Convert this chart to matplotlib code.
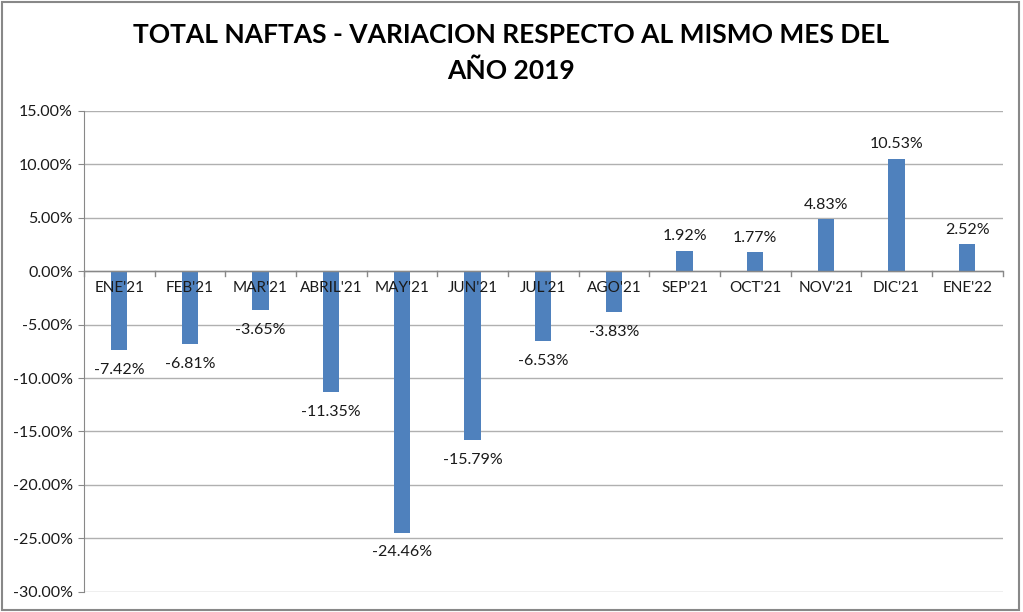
import matplotlib
matplotlib.use("Agg")
import matplotlib.pyplot as plt
from matplotlib.patches import Rectangle

categories = ["ENE'21", "FEB'21", "MAR'21", "ABRIL'21", "MAY'21", "JUN'21", "JUL'21",
              "AGO'21", "SEP'21", "OCT'21", "NOV'21", "DIC'21", "ENE'22"]
values = [-7.42, -6.81, -3.65, -11.35, -24.46, -15.79, -6.53, -3.83, 1.92, 1.77, 4.83, 10.53, 2.52]
yticks = [15, 10, 5, 0, -5, -10, -15, -20, -25, -30]

plt.rcParams['font.family'] = ['Lato', 'DejaVu Sans']

fig = plt.figure(figsize=(10.23, 6.12), dpi=100)
ax = fig.add_axes([0.082, 0.033, 0.898, 0.786])

bar_color = '#4F81BD'
x = list(range(len(categories)))
ax.bar(x, values, width=0.23, color=bar_color, zorder=3)

ax.set_xlim(-0.5, len(categories) - 0.5)
ax.set_ylim(-30, 15)
ax.set_yticks(yticks)
ax.set_yticklabels([f"{v:.2f}%" for v in yticks], fontsize=11.5, color='#1a1a1a')
ax.grid(axis='y', color='#b0b0b0', linewidth=1.0, zorder=0)
ax.tick_params(axis='y', length=4, color='#888888', pad=4)
ax.tick_params(axis='x', length=0)
ax.set_xticks([])

for s in ['top', 'right', 'bottom']:
    ax.spines[s].set_visible(False)
ax.spines['left'].set_color('#888888')

# zero axis line
ax.axhline(0, color='#888888', linewidth=1.0, zorder=4)
for b in range(len(categories) + 1):
    ax.plot([b - 0.5, b - 0.5], [0, -0.45], color='#888888', linewidth=1.0, zorder=4, clip_on=False)

for xi, c in zip(x, categories):
    ax.text(xi, -1.55, c, ha='center', va='center', fontsize=11, color='#1a1a1a', zorder=5)

for xi, v in zip(x, values):
    if v >= 0:
        ax.text(xi, v + 0.7, f"{v:.2f}%", ha='center', va='bottom', fontsize=11.5, color='#1a1a1a')
    else:
        ax.text(xi, v - 1.2, f"{v:.2f}%", ha='center', va='top', fontsize=11.5, color='#1a1a1a')

fig.text(0.5, 0.942, "TOTAL NAFTAS - VARIACION RESPECTO AL MISMO MES DEL", ha='center', va='center',
         fontsize=19, fontweight='bold', color='black')
fig.text(0.5, 0.885, "AÑO 2019", ha='center', va='center',
         fontsize=19, fontweight='bold', color='black')

fig.patches.append(Rectangle((0.002, 0.003), 0.994, 0.994, transform=fig.transFigure,
                             fill=False, edgecolor='#888888', linewidth=1.5))

fig.savefig('out.png', dpi=100)
